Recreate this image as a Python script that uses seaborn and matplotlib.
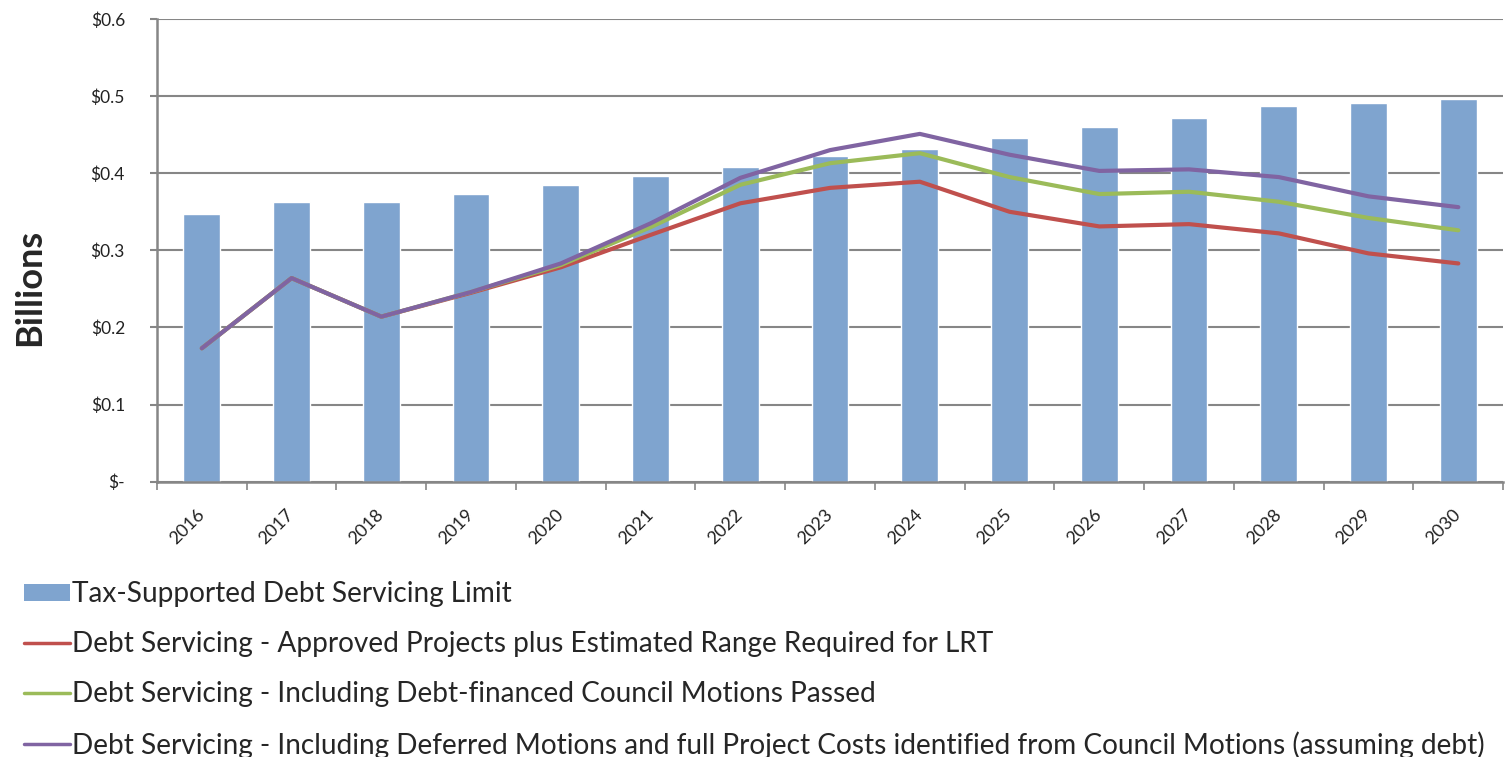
import numpy as np
import pandas as pd
import matplotlib
matplotlib.use("Agg")
import matplotlib.pyplot as plt
from matplotlib.patches import Patch
from matplotlib.lines import Line2D
import seaborn as sns

years = ["2016", "2017", "2018", "2019", "2020", "2021", "2022", "2023",
         "2024", "2025", "2026", "2027", "2028", "2029", "2030"]
limit = [0.347, 0.363, 0.363, 0.373, 0.385, 0.397, 0.408, 0.422,
         0.431, 0.446, 0.460, 0.472, 0.487, 0.491, 0.496]
approved = [0.173, 0.264, 0.214, 0.245, 0.278, 0.320, 0.361, 0.381,
            0.389, 0.350, 0.331, 0.334, 0.322, 0.296, 0.283]
motions = [0.173, 0.264, 0.214, 0.246, 0.281, 0.330, 0.385, 0.413,
           0.426, 0.395, 0.373, 0.376, 0.363, 0.342, 0.326]
deferred = [0.173, 0.264, 0.214, 0.246, 0.283, 0.335, 0.394, 0.430,
            0.451, 0.424, 0.403, 0.405, 0.395, 0.370, 0.356]
y_ticks = [0.0, 0.1, 0.2, 0.3, 0.4, 0.5, 0.6]
y_ticklabels = ["$-", "$0.1", "$0.2", "$0.3", "$0.4", "$0.5", "$0.6"]

labels = ["Tax-Supported Debt Servicing Limit",
          "Debt Servicing - Approved Projects plus Estimated Range Required for LRT",
          "Debt Servicing - Including Debt-financed Council Motions Passed",
          "Debt Servicing - Including Deferred Motions and full Project Costs identified from Council Motions (assuming debt)"]

bar_color = "#7fa4cf"
line_colors = ["#c0504d", "#9bbb59", "#8064a2"]
grid_color = "#868686"

sns.set_theme(style="white")
plt.rcParams["font.family"] = ["Lato", "DejaVu Sans"]

fig = plt.figure(figsize=(15.05, 7.57), dpi=100)
ax = fig.add_axes([0.1043, 0.3637, 0.8945, 0.6112])

bar_df = pd.DataFrame({"year": years, "value": limit})
sns.barplot(data=bar_df, x="year", y="value", color=bar_color, saturation=1,
            width=0.41, ax=ax, zorder=2)

pos = np.arange(len(years))
line_df = pd.concat([
    pd.DataFrame({"pos": pos, "value": vals, "series": lab})
    for vals, lab in zip([approved, motions, deferred], labels[1:])
])
sns.lineplot(data=line_df, x="pos", y="value", hue="series",
             palette=line_colors, linewidth=3.0, ax=ax, legend=False,
             zorder=3, solid_capstyle="round", solid_joinstyle="round")

ax.set_xlim(-0.5, len(years) - 0.5)
ax.set_ylim(0, 0.6)
ax.set_yticks(y_ticks)
ax.set_yticklabels(y_ticklabels, fontsize=12.5, color="#222222")
ax.yaxis.grid(True, color=grid_color, linewidth=1.5, zorder=0)
ax.set_axisbelow(True)
ax.tick_params(axis="y", which="major", length=5, width=1.5,
               color=grid_color, direction="out", pad=18, left=True)

ax.set_xticks(pos)
ax.set_xticklabels(years, rotation=45, ha="right", va="center",
                   rotation_mode="anchor", fontsize=13, color="#222222")
ax.tick_params(axis="x", which="major", length=0, pad=22)
ax.set_xticks(np.arange(-0.5, len(years), 1.0), minor=True)
ax.tick_params(axis="x", which="minor", length=6, width=1.2,
               color=grid_color, direction="out", bottom=True)

for side in ["top", "right"]:
    ax.spines[side].set_visible(False)
for side in ["left", "bottom"]:
    ax.spines[side].set_color(grid_color)
    ax.spines[side].set_linewidth(1.8)

ax.set_xlabel("")
ax.set_ylabel("")
fig.text(0.02, 0.62, "Billions", rotation=90, fontsize=26,
         fontweight="bold", ha="center", va="center")

handles = [Patch(facecolor=bar_color, edgecolor="none")] + [
    Line2D([0], [0], color=c, linewidth=2.5) for c in line_colors]
fig.legend(handles, labels, loc="upper left", bbox_to_anchor=(0.016, 0.232),
           frameon=False, fontsize=20.2, handlelength=1.65, handleheight=0.55,
           handletextpad=0.07, labelspacing=0.85, borderaxespad=0,
           borderpad=0)

fig.savefig("out.png", dpi=100)
